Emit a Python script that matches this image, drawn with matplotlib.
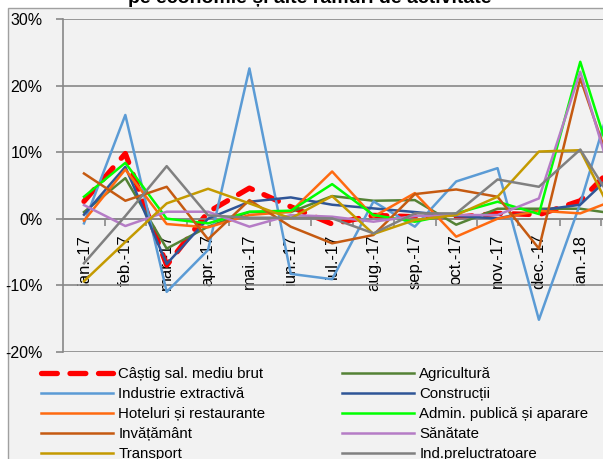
import matplotlib
matplotlib.use('Agg')
import matplotlib.pyplot as plt
from matplotlib.patches import Rectangle

plt.rcParams['font.family'] = ['Liberation Sans', 'DejaVu Sans']

# luni (ultima categorie iese din cadru, ca in original)
months = ['ian.-17', 'feb.-17', 'mar.-17', 'apr.-17', 'mai.-17', 'iun.-17', 'iul.-17',
          'aug.-17', 'sep.-17', 'oct.-17', 'nov.-17', 'dec.-17', 'ian.-18', 'feb.-18']

# variatii lunare, %
castig = [2.6, 9.8, -7.0, 1.0, 4.6, 1.8, -0.8, 0.5, 0.3, 0.2, 0.8, 0.6, 2.7, 9.0]
agricultura = [1.0, 6.1, -4.5, -1.2, 1.0, 1.0, 3.4, 2.7, 2.8, -0.9, 1.5, 1.5, 1.5, 0.6]
industrie = [-0.7, 15.6, -11.0, -4.7, 22.6, -8.3, -9.1, 2.6, -1.2, 5.6, 7.6, -15.2, 2.3, 23.0]
constructii = [0.6, 7.8, -6.8, 0.0, 2.55, 3.2, 2.1, 1.55, 1.0, 0.4, 0.05, 1.25, 2.1, 8.0]
hoteluri = [-0.3, 7.4, -0.8, -1.3, 0.55, 1.05, 7.1, 0.3, 3.85, -2.7, 0.0, 1.2, 0.8, 3.2]
admin = [3.3, 8.4, 0.0, -0.7, 1.05, 1.2, 5.2, 0.55, -0.45, 0.8, 2.55, 0.7, 23.6, 3.8]
invatamant = [6.8, 2.7, 4.8, -3.1, 2.8, -1.2, -3.7, -2.45, 3.7, 4.4, 3.3, -4.5, 21.1, 3.0]
sanatate = [2.05, -1.1, 1.05, 1.05, -1.2, 0.55, 0.3, -0.45, 0.4, 0.55, 0.55, 3.05, 22.1, 1.0]
transport = [-9.4, -3.5, 2.3, 4.5, 2.3, 0.05, 3.4, -2.3, -0.2, 0.55, 3.3, 10.1, 10.3, -2.0]
ind_prel = [-6.7, 0.4, 7.9, 0.5, 0.15, 0.15, 0.05, -2.2, 0.8, 0.8, 5.9, 4.8, 10.4, 0.5]

yticks = [-20, -10, 0, 10, 20, 30]
ytick_labels = ['-20%', '-10%', '0%', '10%', '20%', '30%']

# ordinea seriilor ca in Excel (legenda pe randuri)
series = [
    ('Câștig sal. mediu brut', castig, '#FF0000'),
    ('Agricultură', agricultura, '#548235'),
    ('Industrie extractivă', industrie, '#5B9BD5'),
    ('Construcții', constructii, '#2F5597'),
    ('Hoteluri și restaurante', hoteluri, '#FF6A10'),
    ('Admin. publică și aparare', admin, '#00FF00'),
    ('Invățământ', invatamant, '#C55A11'),
    ('Sănătate', sanatate, '#B57CC6'),
    ('Transport', transport, '#C49A00'),
    ('Ind.preluctratoare', ind_prel, '#808080'),
]

W, H = 603, 459
fig = plt.figure(figsize=(W / 100, H / 100), dpi=100)
fig.patch.set_facecolor('white')

# cadrul graficului (taiat la dreapta si jos)
fig.add_artist(Rectangle((8 / W, -0.2), 1.2, 1.2 - 8 / H, transform=fig.transFigure,
                         facecolor='#F2F2F2', edgecolor='#A0A0A0', lw=1.0, zorder=0))

# titlul, aproape complet in afara imaginii
fig.text(310 / W, 1 - 3 / H, 'pe economie și alte ramuri de activitate', ha='center',
         va='baseline', fontsize=14, fontweight='bold')

ax = fig.add_axes([63.3 / W, (H - 351.7) / H, 579 / W, 332.5 / H])
ax.set_facecolor('#F2F2F2')

x = list(range(len(months)))
handles = {}
for name, vals, color in series:
    if name.startswith('Câștig'):
        ln, = ax.plot(x, vals, color=color, lw=3.8, linestyle=(0, (3, 2.4)),
                      dash_capstyle='round', solid_capstyle='round', zorder=2)
    else:
        ln, = ax.plot(x, vals, color=color, lw=1.8, zorder=3)
    handles[name] = ln

ax.set_xlim(-0.5, len(months) - 0.5)
ax.set_ylim(-20, 30)
ax.set_yticks(yticks)
ax.set_yticklabels(ytick_labels)
ax.yaxis.grid(True, color='#888888', lw=1.2)
ax.set_axisbelow(True)

for s in ['top', 'right']:
    ax.spines[s].set_visible(False)
ax.spines['left'].set_color('#888888')
ax.spines['left'].set_linewidth(1.2)
ax.spines['bottom'].set_position(('data', 0))
ax.spines['bottom'].set_color('#888888')
ax.spines['bottom'].set_linewidth(1.2)

# eticheta pentru feb.-18 ramane in afara imaginii, deci nu o mai scriem
ax.set_xticks(x[:-1])
ax.set_xticklabels(months[:-1], rotation=90)
ax.set_xticks([i + 0.5 for i in x], minor=True)
ax.tick_params(axis='x', which='major', length=0, pad=11, labelsize=12)
ax.tick_params(axis='x', which='minor', length=5, color='#888888', width=1.2, direction='out')
ax.tick_params(axis='y', length=5, color='#888888', width=1.2, pad=10, labelsize=11.5)

# legenda: doua coloane separate
col1 = ['Câștig sal. mediu brut', 'Industrie extractivă', 'Hoteluri și restaurante',
        'Invățământ', 'Transport']
col2 = ['Agricultură', 'Construcții', 'Admin. publică și aparare', 'Sănătate',
        'Ind.preluctratoare']
for names, x0 in [(col1, 41), (col2, 342)]:
    hs = [handles[n] for n in names]
    fig.legend(hs, names, loc='upper left', bbox_to_anchor=(x0 / W, 1 - 367 / H),
               frameon=False, fontsize=10.8, handlelength=4.8, handletextpad=0.35,
               labelspacing=0.4, borderpad=0, borderaxespad=0)

fig.savefig('out.png', dpi=100)
